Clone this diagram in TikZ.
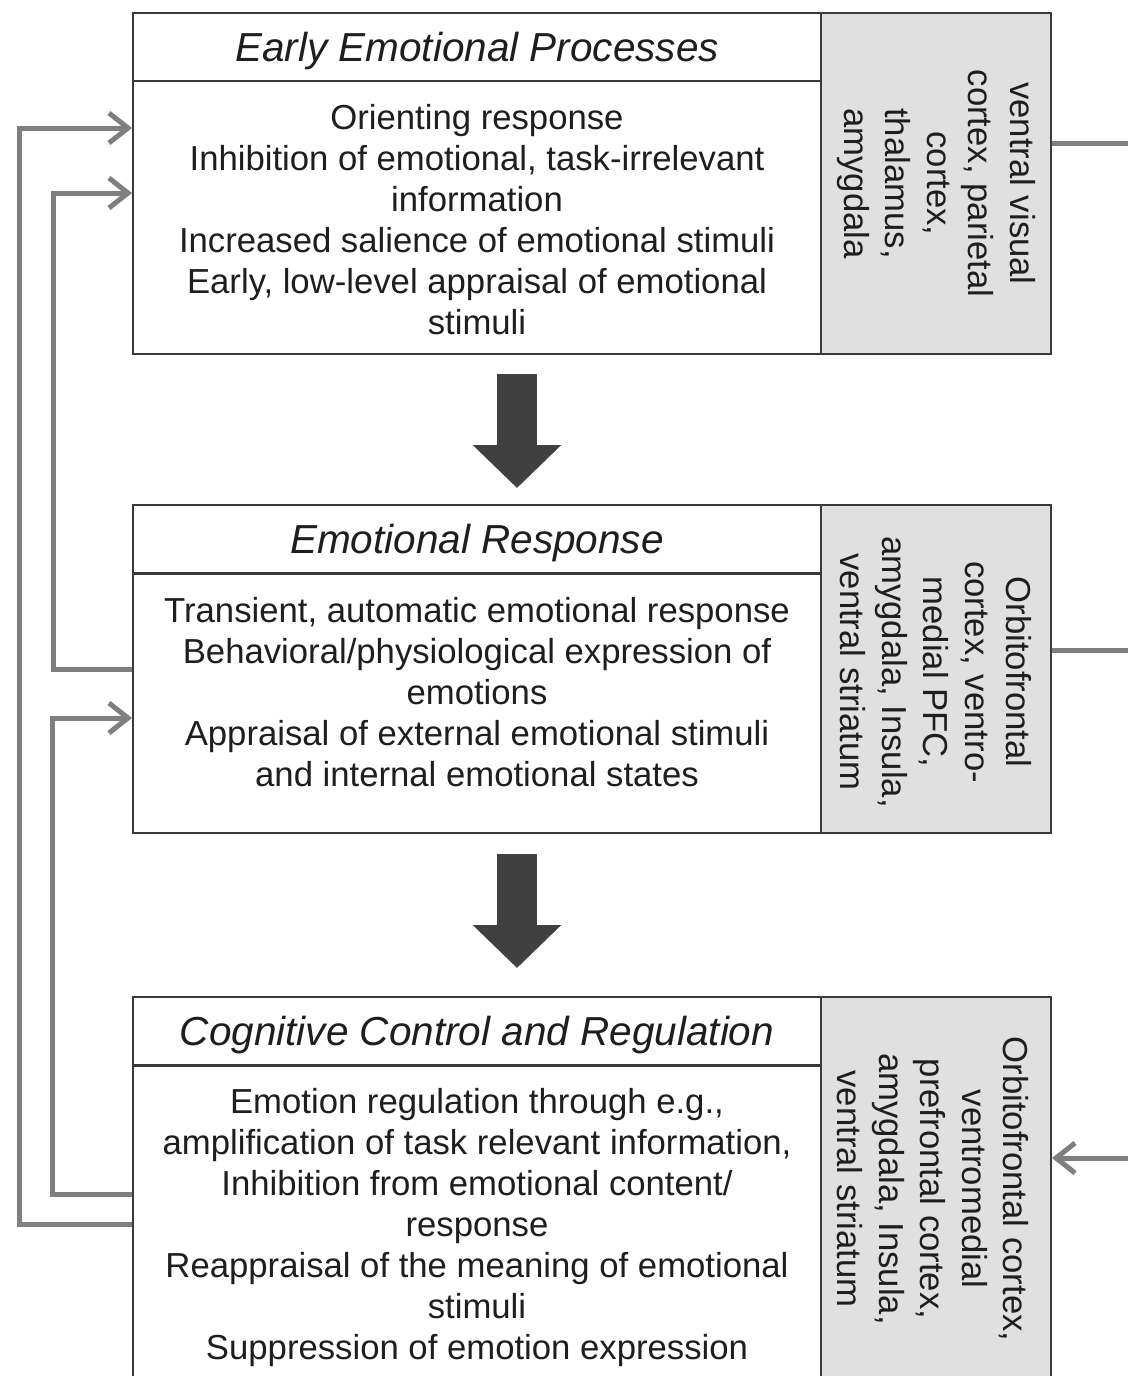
\documentclass[tikz,border=0pt]{standalone}
\usepackage{fontspec}
\setmainfont{Liberation Sans}
\usetikzlibrary{positioning,arrows.meta}

\definecolor{boxline}{HTML}{3A3A3A}
\definecolor{regionfill}{HTML}{E0E0E0}
\definecolor{linkgray}{HTML}{7F7F7F}
\definecolor{bigarrowgray}{HTML}{404040}
\definecolor{textdark}{HTML}{1E1E1E}

\tikzset{
  stage/.style={draw=boxline, line width=2pt, rectangle, inner sep=0pt, minimum width=688pt, anchor=north west},
  stagetitle/.style={stage, minimum height=68pt, text depth=0pt, font=\fontsize{40.5}{48}\selectfont\itshape, text=textdark},
  region/.style={draw=boxline, fill=regionfill, line width=2pt, rectangle, inner sep=0pt, minimum width=230pt, anchor=north west},
  bodytext/.style={align=center, inner sep=0pt, anchor=north, font=\fontsize{34.7}{41}\selectfont, text=textdark},
  regiontext/.style={align=center, inner sep=0pt, rotate=-90, font=\fontsize{34.7}{41.5}\selectfont, text=textdark},
  feedback/.style={draw=linkgray, line width=5pt, -{Straight Barb[length=19pt,width=30pt]}},
  outlink/.style={draw=linkgray, line width=5pt},
  bigarrow/.style={draw=bigarrowgray, line width=40pt, -{Triangle[length=43pt,width=86pt]}}
}

\begin{document}
\begin{tikzpicture}[x=1pt, y=-1pt]
  \clip (0,0) rectangle (1128,1376);
  \fill[white] (0,0) rectangle (1128,1376);

  % early processes
  \node[region, minimum height=341pt] (region1) at (820,12) {};
  \node[stage, minimum height=273pt] (body1) at (132,80) {};
  \node[stagetitle] (title1) at (132,12) {Early Emotional Processes};
  \node[bodytext, below=24pt of body1.north] (text1) {Orienting response\\
    Inhibition of emotional, task-irrelevant\\ information\\
    Increased salience of emotional stimuli\\
    Early, low-level appraisal of emotional\\ stimuli};
  \node[regiontext] (rtext1) at (region1.center) {ventral visual\\ cortex, parietal\\ cortex,\\ thalamus,\\ amygdala};

  % emotional response
  \node[region, minimum height=328pt] (region2) at (820,504) {};
  \node[stage, minimum height=259pt] (body2) at (132,573) {};
  \node[stagetitle] (title2) at (132,504) {Emotional Response};
  \node[bodytext, below=24pt of body2.north] (text2) {Transient, automatic emotional response\\
    Behavioral/physiological expression of\\ emotions\\
    Appraisal of external emotional stimuli\\ and internal emotional states};
  \node[regiontext] (rtext2) at ([yshift=-3pt]region2.center) {Orbitofrontal\\ cortex, ventro-\\ medial PFC,\\ amygdala, Insula,\\ ventral striatum};

  % control and regulation
  \node[region, minimum height=420pt] (region3) at (820,996) {};
  \node[stage, minimum height=351pt] (body3) at (132,1065) {};
  \node[stagetitle] (title3) at (132,996) {Cognitive Control and Regulation};
  \node[bodytext, below=23pt of body3.north] (text3) {Emotion regulation through e.g.,\\
    amplification of task relevant information,\\
    Inhibition from emotional content/\\ response\\
    Reappraisal of the meaning of emotional\\ stimuli\\
    Suppression of emotion expression};
  \node[regiontext] (rtext3) at (933,1189) {Orbitofrontal cortex,\\ ventromedial\\ prefrontal cortex,\\ amygdala, Insula,\\ ventral striatum};

  % big arrows
  \draw[bigarrow] ([yshift=-19pt]body1.south -| 517,0) -- ([yshift=16pt]title2.north -| 517,0);
  \draw[bigarrow] ([yshift=-20pt]body2.south -| 517,0) -- ([yshift=28pt]title3.north -| 517,0);

  % feedback loops
  \draw[feedback] (body3.west |- 0,1224) -| (19,128) -- (body1.west |- 0,128);
  \draw[feedback] (body3.west |- 0,1194) -| (52,718) -- (body2.west |- 0,718);
  \draw[feedback] (body2.west |- 0,669) -| (53,193) -- (body1.west |- 0,193);

  % links to the right
  \coordinate (out1) at (1128,143);
  \coordinate (out2) at (1128,650);
  \coordinate (in3) at (1128,1158);
  \draw[outlink] (region1.east |- out1) -- (out1);
  \draw[outlink] (region2.east |- out2) -- (out2);
  \draw[feedback] (in3) -- (region3.east |- in3);
\end{tikzpicture}
\end{document}
